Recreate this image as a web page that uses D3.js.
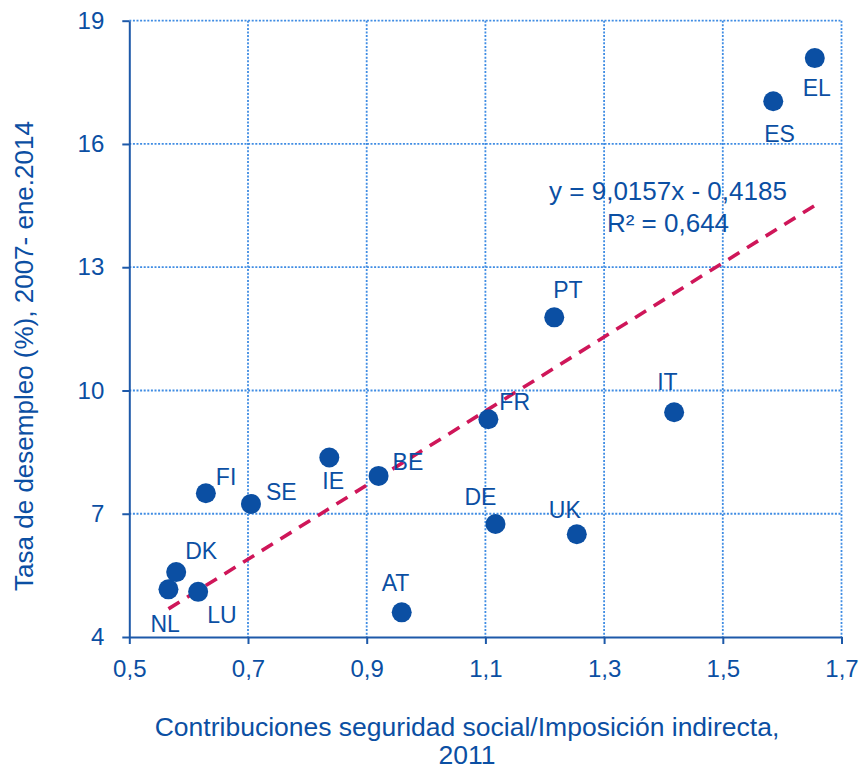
<!DOCTYPE html>
<html lang="es">
<head>
<meta charset="utf-8">
<script src="https://cdn.jsdelivr.net/npm/d3@7"></script>
<style>
  html, body { margin: 0; padding: 0; background: #fff; }
  svg { display: block; font-family: "Liberation Sans", Arial, sans-serif; }
</style>
</head>
<body>
<svg id="chart" width="862" height="770"></svg>
<script>
// Países (códigos UE)
const countries = ["NL", "DK", "LU", "FI", "SE", "IE", "BE", "AT", "FR", "DE", "UK", "PT", "IT", "ES", "EL"];
// Contribuciones seguridad social / imposición indirecta, 2011
const ratio2011 = [0.566, 0.579, 0.616, 0.629, 0.705, 0.837, 0.920, 0.959, 1.105, 1.117, 1.254, 1.216, 1.418, 1.585, 1.655];
// Tasa de desempleo media (%), 2007 - ene. 2014
const unemployment = [5.16, 5.58, 5.10, 7.50, 7.24, 8.37, 7.92, 4.60, 9.30, 6.75, 6.50, 11.78, 9.47, 17.04, 18.09];

const xTicks = [0.5, 0.7, 0.9, 1.1, 1.3, 1.5, 1.7];
const yTicks = [4, 7, 10, 13, 16, 19];

// Recta de regresión lineal y R²
const slope = 9.0157;
const intercept = -0.4185;
const rSquared = 0.644;

// Desplazamiento de cada etiqueta respecto a su punto (px)
const labelOffset = {
  NL: [-18, 43], DK: [9, -13], LU: [9, 31], FI: [10, -8], SE: [15, -4],
  IE: [-7, 32], BE: [14, -6], AT: [-20, -21], FR: [11, -9], DE: [-31, -19],
  UK: [-28, -16], PT: [-1, -19], IT: [-17, -22], ES: [-9, 41], EL: [-12, 38]
};

const blue = "#0b4fa3";
const axisBlue = "#1d59a9";
const gridBlue = "#3f8ce3";
const trendRed = "#cf1659";

const es = d3.formatLocale({ decimal: ",", thousands: ".", grouping: [3], currency: ["", " €"] });
const fmt1 = es.format(".1f");
const fmtCoef = es.format(".4f");
const fmtR = es.format(".3f");

const svg = d3.select("#chart");
const plot = { left: 129.3, right: 841.5, top: 20.7, bottom: 637 };

const x = d3.scaleLinear().domain([0.5, 1.7]).range([plot.left, plot.right]);
const y = d3.scaleLinear().domain([4, 19]).range([plot.bottom, plot.top]);

// Cuadrícula punteada
const grid = svg.append("g").attr("fill", "none")
  .attr("stroke", gridBlue).attr("stroke-width", 1.8).attr("stroke-dasharray", "2,1.6");
grid.selectAll("line.h").data(yTicks.filter(v => v !== 4)).join("line")
  .attr("class", "h")
  .attr("x1", plot.left).attr("x2", plot.right)
  .attr("y1", d => y(d)).attr("y2", d => y(d));
grid.selectAll("line.v").data(xTicks.filter(v => v !== 0.5)).join("line")
  .attr("class", "v")
  .attr("x1", d => x(d)).attr("x2", d => x(d))
  .attr("y1", plot.top).attr("y2", plot.bottom);

// Ejes
const xAxis = svg.append("g")
  .attr("transform", `translate(0,${plot.bottom})`)
  .call(d3.axisBottom(x).tickValues(xTicks).tickFormat(fmt1).tickSize(7).tickPadding(16).tickSizeOuter(0));
const yAxis = svg.append("g")
  .attr("transform", `translate(${plot.left},0)`)
  .call(d3.axisLeft(y).tickValues(yTicks).tickFormat(d3.format("d")).tickSize(7).tickPadding(18).tickSizeOuter(0));

[xAxis, yAxis].forEach(g => {
  g.select(".domain").attr("stroke", axisBlue).attr("stroke-width", 2);
  g.selectAll(".tick line").attr("stroke", axisBlue).attr("stroke-width", 2);
  g.selectAll(".tick text").attr("fill", blue)
    .style("font-family", "'Liberation Sans', Arial, sans-serif").style("font-size", "24px");
});

// Línea de tendencia
const xs = d3.extent(ratio2011);
svg.append("line")
  .attr("x1", x(xs[0])).attr("y1", y(slope * xs[0] + intercept))
  .attr("x2", x(xs[1])).attr("y2", y(slope * xs[1] + intercept))
  .attr("stroke", trendRed).attr("stroke-width", 3.6)
  .attr("stroke-dasharray", "13,9");

// Puntos
const data = countries.map((c, i) => ({ c, vx: ratio2011[i], vy: unemployment[i] }));
svg.append("g").selectAll("circle").data(data).join("circle")
  .attr("cx", d => x(d.vx)).attr("cy", d => y(d.vy)).attr("r", 10)
  .attr("fill", blue);

// Etiquetas de país
svg.append("g").selectAll("text").data(data).join("text")
  .attr("x", d => x(d.vx) + labelOffset[d.c][0])
  .attr("y", d => y(d.vy) + labelOffset[d.c][1])
  .attr("fill", blue).style("font-size", "23px")
  .text(d => d.c);

// Ecuación de la regresión
const eq = svg.append("g").attr("fill", blue).style("font-size", "26px").attr("text-anchor", "middle");
eq.append("text").attr("x", 668).attr("y", 200)
  .text(`y = ${fmtCoef(slope)}x - ${fmtCoef(-intercept)}`);
eq.append("text").attr("x", 668).attr("y", 232)
  .text(`R² = ${fmtR(rSquared)}`);

// Títulos de los ejes
const xt = svg.append("text").attr("fill", blue).style("font-size", "26.5px").attr("text-anchor", "middle");
xt.append("tspan").attr("x", 467).attr("y", 736).text("Contribuciones seguridad social/Imposición indirecta,");
xt.append("tspan").attr("x", 467).attr("y", 764).text("2011");

svg.append("text").attr("fill", blue).style("font-size", "26px").attr("text-anchor", "middle")
  .attr("transform", "translate(33,356) rotate(-90)")
  .text("Tasa de desempleo (%), 2007- ene.2014");
</script>
</body>
</html>
